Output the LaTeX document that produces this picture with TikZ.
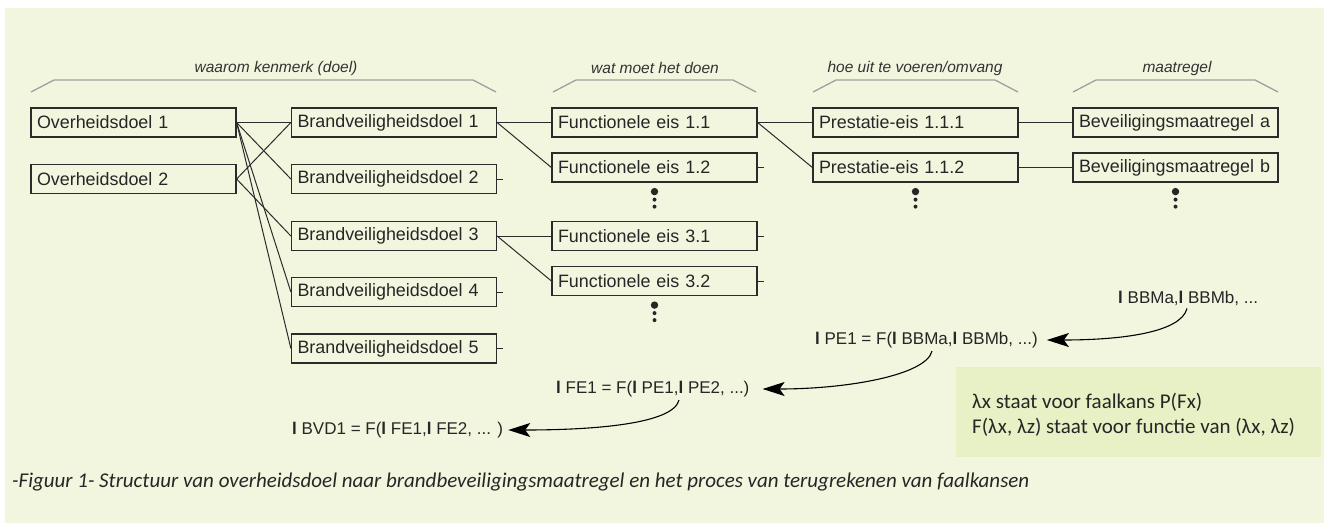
\documentclass[tikz,border=0pt]{standalone}
\usepackage{fontspec}
\setmainfont{Liberation Sans}
\newfontfamily\notefont{Carlito}
\usetikzlibrary{arrows.meta}
\definecolor{panelgreen}{HTML}{F2F6DF}
\definecolor{notegreen}{HTML}{E8F0C5}
\definecolor{boxline}{HTML}{2B2B2B}
\definecolor{bracketgray}{HTML}{A0A0A0}
\tikzstyle{goal} = [rectangle, draw=boxline, line width=1.2pt, minimum width=205pt, minimum height=29pt, text width=193pt, align=left, inner xsep=6pt, inner ysep=0pt, font=\fontsize{17.9}{20}\selectfont, text=black!85]
\tikzstyle{link} = [draw=boxline, line width=1pt]
\tikzstyle{header} = [font=\fontsize{15.5}{18}\selectfont\itshape, text=black!80, inner sep=0pt]
\tikzstyle{bracket} = [draw=bracketgray, line width=1.3pt]
\tikzstyle{formula} = [font=\fontsize{17}{20}\selectfont, text=black!85, inner sep=0pt, anchor=west]
\tikzstyle{arrow} = [line width=1.1pt, -{Stealth[length=22pt,width=14pt,inset=5pt]}]
\newcommand{\lbar}{{\bfseries l}}

\begin{document}
\begin{tikzpicture}[x=1pt, y=-1pt]
\useasboundingbox (0,0) rectangle (1324,525);
\fill[white] (0,0) rectangle (1324,525);
\fill[panelgreen] (5,8) rectangle (1324,523);

% column headers
\foreach \xa/\xb/\xm/\lbl in {31/496/276/{waarom kenmerk (doel)}, 553/756/655/{wat moet het doen}, 813/1018/915/{hoe uit te voeren/omvang}, 1073/1278/1177/{maatregel}} {
  \draw [bracket] (\xa,92) -- (\xa+23,80) -- (\xb-23,80) -- (\xb,92);
  \node (head\xa) [header] at (\xm,68) {\lbl};
}

% goals
\node (od1) [goal] at (133.5,122.5) {Overheidsdoel 1};
\node (od2) [goal] at (133.5,179) {Overheidsdoel 2};

\node (bvd1) [goal] at (394,122.5) {Brandveiligheidsdoel 1};
\node (bvd2) [goal] at (394,179) {Brandveiligheidsdoel 2};
\node (bvd3) [goal] at (394,236) {Brandveiligheidsdoel 3};
\node (bvd4) [goal] at (394,292) {Brandveiligheidsdoel 4};
\node (bvd5) [goal] at (394,348.5) {Brandveiligheidsdoel 5};

\node (fe11) [goal] at (654.5,122.5) {Functionele eis 1.1};
\node (fe12) [goal] at (654.5,167.5) {Functionele eis 1.2};
\node (fe31) [goal] at (654.5,236) {Functionele eis 3.1};
\node (fe32) [goal] at (654.5,281) {Functionele eis 3.2};

\node (pe111) [goal] at (915.5,122.5) {Prestatie-eis 1.1.1};
\node (pe112) [goal] at (915.5,167.5) {Prestatie-eis 1.1.2};

\node (bma) [goal] at (1175.5,122.5) {Beveiligingsmaatregel~a};
\node (bmb) [goal] at (1175.5,167.5) {Beveiligingsmaatregel~b};

\draw [link] (od1.east) -- (bvd1.west);
\draw [link] (od1.east) -- (bvd2.west);
\draw [link] (od1.east) -- (bvd4.west);
\draw [link] (od1.east) -- (bvd5.west);
\draw [link] (od2.east) -- (bvd1.west);
\draw [link] (od2.east) -- (bvd3.west);
\draw [link] (bvd1.east) -- (fe11.west);
\draw [link] (bvd1.east) -- (fe12.west);
\draw [link] (bvd3.east) -- (fe31.west);
\draw [link] (bvd3.east) -- (fe32.west);
\draw [link] (fe11.east) -- (pe111.west);
\draw [link] (fe11.east) -- (pe112.west);
\draw [link] (pe111.east) -- (bma.west);
\draw [link] (pe112.east) -- (bmb.west);

% open ends
\foreach \n in {bvd2, bvd4, bvd5, fe12, fe31, fe32}
  \draw [link] (\n.east) -- ++(6,0);

% more of the same
\foreach \n in {fe12, pe112, bmb, fe32} {
  \fill [black!85] ([yshift=-9pt]\n.south) circle (3.7pt);
  \fill [black!85] ([yshift=-17pt]\n.south) circle (2pt);
  \fill [black!85] ([yshift=-24pt]\n.south) circle (2pt);
}

% failure probabilities
\node (lbbm) [formula] at (1118,298) {\lbar\ BBMa,\lbar\ BBMb, ...};
\node (lpe) [formula] at (815,340) {\lbar\ PE1 = F(\lbar\ BBMa,\lbar\ BBMb, ...)};
\node (lfe) [formula] at (556,389) {\lbar\ FE1 = F(\lbar\ PE1,\lbar\ PE2, ...)};
\node (lbvd) [formula] at (292,430) {\lbar\ BVD1 = F(\lbar\ FE1,\lbar\ FE2, ... )};

\coordinate (s1) at ([xshift=69pt, yshift=-3pt]lbbm.south west);
\coordinate (t1) at ([xshift=9pt]lpe.east);
\coordinate (s2) at ([xshift=117pt, yshift=-3pt]lpe.south west);
\coordinate (t2) at ([xshift=13pt]lfe.east);
\coordinate (s3) at ([xshift=123pt, yshift=-3pt]lfe.south west);
\coordinate (t3) at ([xshift=5pt]lbvd.east);

\draw [arrow] (s1) .. controls +(-6,24) and +(75,0) .. (t1);
\draw [arrow] (s2) .. controls +(-6,24) and +(85,0) .. (t2);
\draw [arrow] (s3) .. controls +(-6,24) and +(85,0) .. (t3);

% legend
\node (legend) [rectangle, fill=notegreen, minimum width=365pt, minimum height=90pt, anchor=north west, inner sep=0pt] at (956,367) {};
\node (legendtext) [anchor=west, align=left, inner sep=0pt, text=black!85, font=\notefont\fontsize{21}{25}\selectfont] at (972,414.5) {λx staat voor faalkans P(Fx)\\F(λx, λz) staat voor functie van (λx, λz)};

% caption
\node (caption) [anchor=west, inner sep=0pt, text=black!85, font=\notefont\itshape\fontsize{21}{24}\selectfont] at (12,482) {-Figuur 1- Structuur van overheidsdoel naar brandbeveiligingsmaatregel en het proces van terugrekenen van faalkansen};

\end{tikzpicture}
\end{document}
